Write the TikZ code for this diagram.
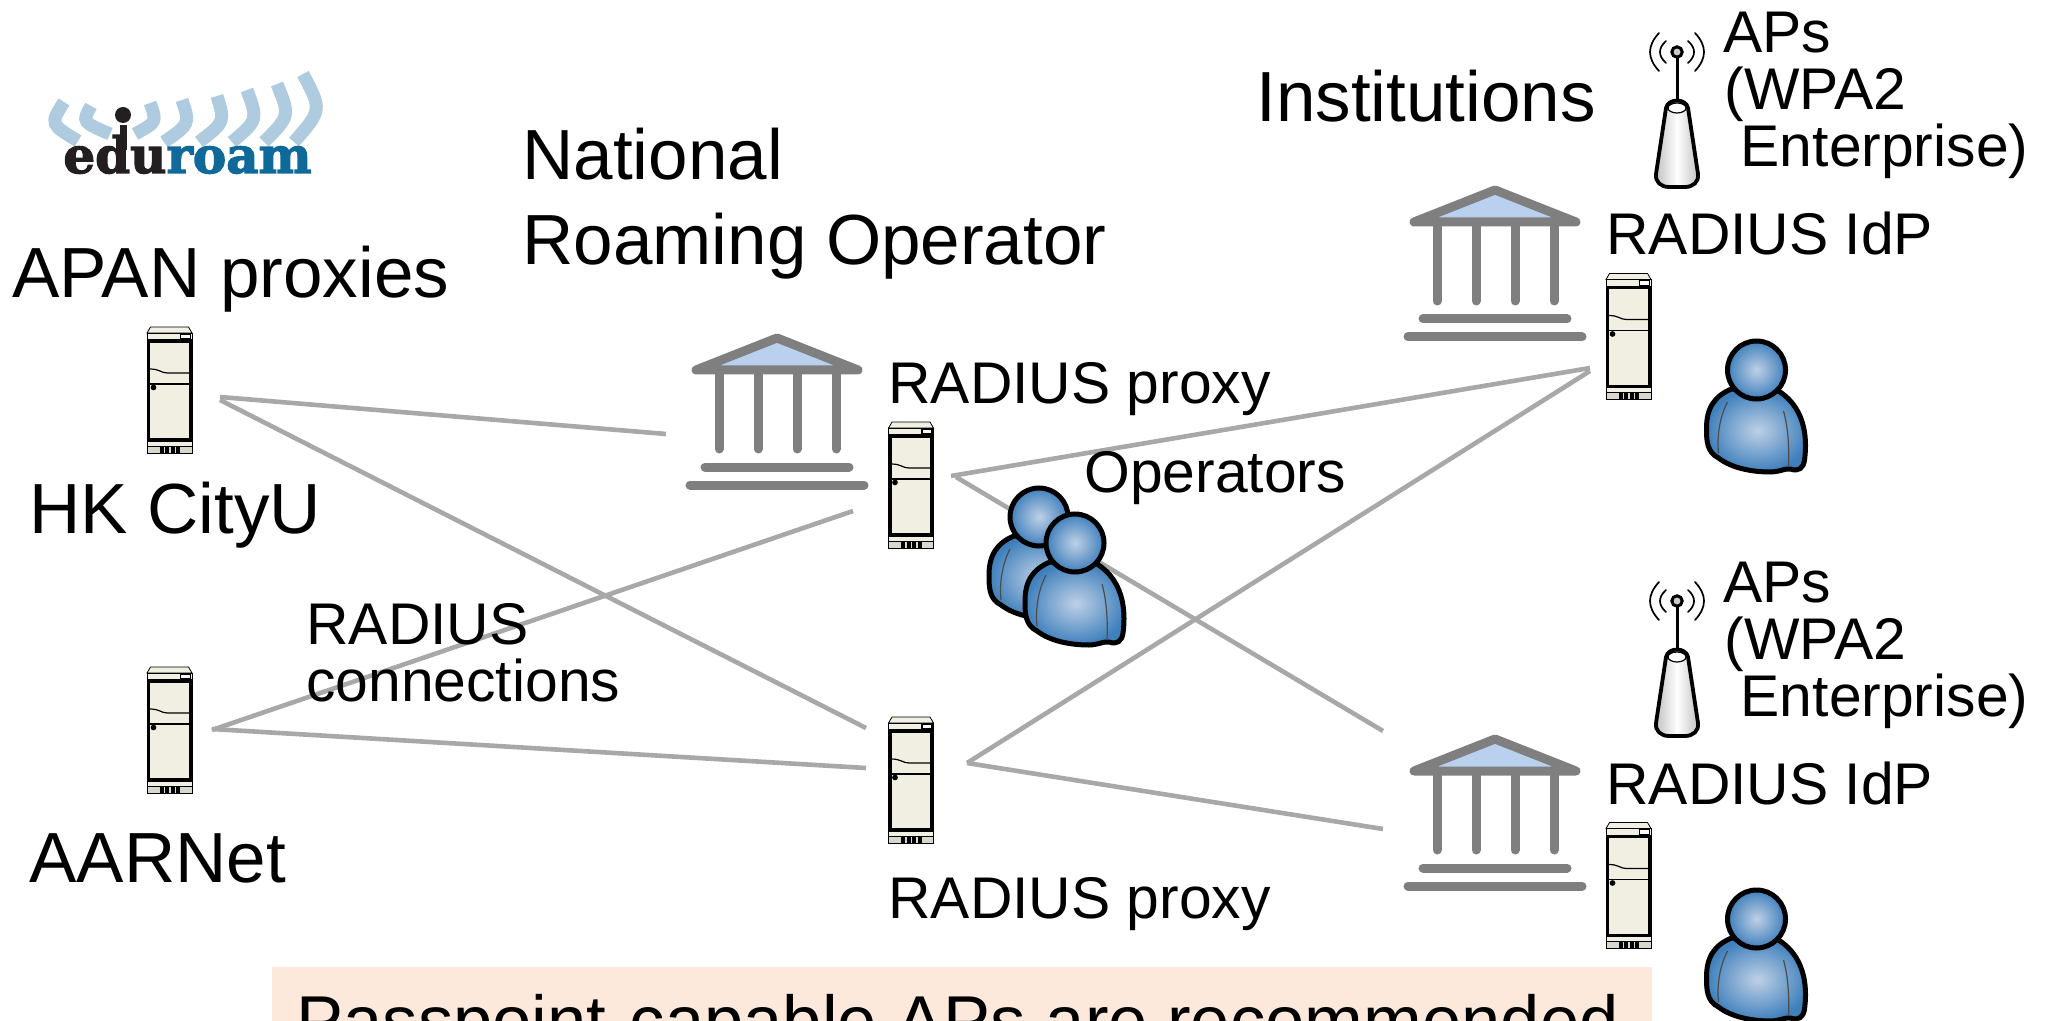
\documentclass[tikz,border=0pt]{standalone}
\usepackage{fontspec}
\setmainfont{Liberation Sans}
\newfontfamily\logofont[BoldFeatures={FakeBold=2.5}]{DejaVu Serif}
\definecolor{linkgray}{HTML}{A8A8A8}
\definecolor{bankgray}{HTML}{7F7F7F}
\definecolor{bankblue}{HTML}{B9D1EE}
\definecolor{boxcream}{HTML}{F1EEE2}
\definecolor{ventgray}{HTML}{D9D6CC}
\definecolor{notefill}{HTML}{FCE9DB}
\definecolor{arcblue}{HTML}{AECBDF}
\definecolor{logodark}{HTML}{231F20}
\definecolor{logoblue}{HTML}{0F6A9A}
\definecolor{skinmid}{HTML}{BFD0E6}
\definecolor{skinout}{HTML}{3F80BC}
\tikzset{
    link/.style={draw=linkgray, line width=2.3pt},
    bigtext/.style={anchor=base west, inner sep=0pt, font=\fontsize{35.5}{42.5}\selectfont, align=left},
    smalltext/.style={anchor=base west, inner sep=0pt, font=\fontsize{29.4}{28.5}\selectfont, align=left},
    radiobeam/.style={draw=black, line width=0.85pt, line cap=round},
    servericon/.pic={
        \draw[fill=boxcream, line width=0.4pt] (-22.5, -57) -- (-19, -63) -- (19, -63) -- (22.5, -57) -- cycle;
        \draw[fill=boxcream, line width=0.4pt] (-22.5, -57) rectangle (22.5, 56);
        \draw[fill=white!70!boxcream, line width=0.8pt] (11, -56) rectangle (21, -51);
        \draw[fill=boxcream, line width=1.8pt] (-21, -49) rectangle (21, 50);
        \draw[line width=0.6pt] (-20, -21) .. controls (-9, -21) and (-9, -17) .. (-2, -17) -- (20, -17);
        \draw[line width=0.9pt] (-20, -6) -- (20, -6);
        \filldraw (-16, -2.5) circle (1.2pt);
        \draw[fill=ventgray, line width=0.4pt] (-22.5, 56) rectangle (22.5, 63);
        \foreach \ventx in {-10, -4.5, 1, 6.5} {
            \fill (\ventx, 56.5) rectangle (\ventx + 4, 62.5);
        }
    },
    bankicon/.pic={
        \draw[bankgray, fill=bankblue, line width=4.5pt, line join=round, line cap=round] (-81, 41) -- (0, 9) -- (81, 41) -- cycle;
        \foreach \colx in {-58, -19, 20, 59} {
            \draw[bankgray, line width=4.5pt, line cap=round] (\colx, 42) -- (\colx, 120);
        }
        \draw[bankgray, line width=4.5pt, line cap=round] (-72, 138) -- (72, 138);
        \draw[bankgray, line width=4.5pt, line cap=round] (-87, 156) -- (87, 156);
    },
    usericon/.pic={
        \draw[line width=2.5pt, line join=round, inner color=skinmid, outer color=skinout] (-25, 19) .. controls (-42, 26) and (-50, 38) .. (-50, 58)
            .. controls (-50, 70) and (-50, 82) .. (-38, 88)
            .. controls (-25, 98) and (-5, 102) .. (14, 102)
            .. controls (22, 102) and (30, 98) .. (34, 99)
            .. controls (42, 102) and (47, 98) .. (48, 90)
            .. controls (50, 75) and (52, 40) .. (22, 21) -- cycle;
        \draw[draw=black!70, line width=0.6pt] (-29, 32) .. controls (-36, 45) and (-40, 65) .. (-38, 83);
        \draw[draw=black!70, line width=0.6pt] (27, 41) .. controls (31, 55) and (33, 75) .. (32, 96);
        \draw[line width=2.5pt, inner color=skinmid, outer color=skinout] (0, 0) circle (14.5pt);
    },
    apicon/.pic={
        % Antenna
        \draw[line width=1.5pt] (0, 6) -- (0, 50);
        \draw[fill=white!80!black, line width=1.5pt] (0, 0) circle (2.6pt);
        % Base
        \draw[line width=1.9pt, line join=round, left color=black!25, right color=black!25, middle color=white] (-11, 56) -- (-21, 122)
            .. controls (-22, 130) and (-16, 135) .. (-8, 135) -- (8, 135)
            .. controls (16, 135) and (22, 130) .. (21, 122) -- (11, 56)
            .. controls (9, 46) and (-9, 46) .. (-11, 56) -- cycle;
        \draw[fill=white, line width=0.6pt] (0, 56) ellipse (4.5pt and 2.5pt);
        % Beams
        \draw[radiobeam] (-11, -11) .. controls (-19, -4) and (-19, 4) .. (-11, 11);
        \draw[radiobeam] (11, -11) .. controls (19, -4) and (19, 4) .. (11, 11);
        \draw[radiobeam] (-18, -19) .. controls (-30, -6) and (-30, 6) .. (-18, 19);
        \draw[radiobeam] (18, -19) .. controls (30, -6) and (30, 6) .. (18, 19);
    }
}
\begin{document}
\begin{tikzpicture}[x=0.5pt, y=-0.5pt]
        \clip[use as bounding box] (0, 0) rectangle (2049, 1021);

        % Link ends
        \coordinate (cityuA) at (220, 397);
        \coordinate (cityuB) at (220, 400);
        \coordinate (aarnetA) at (212, 730);
        \coordinate (aarnetB) at (212, 729);
        \coordinate (nroIn) at (666, 434);
        \coordinate (nroLow) at (853, 511);
        \coordinate (upperA) at (951, 476);
        \coordinate (upperB) at (956, 477);
        \coordinate (lowerInA) at (866, 728);
        \coordinate (lowerInB) at (866, 768);
        \coordinate (lowerOut) at (967, 763);
        \coordinate (idpA) at (1590, 368);
        \coordinate (idpB) at (1590, 371);
        \coordinate (instTop) at (1383, 731);
        \coordinate (instLow) at (1383, 829);

        % Note
        \fill[notefill] (272, 967) rectangle (1652, 1021);
        \node[anchor=base west, inner sep=0pt, font=\fontsize{35.3}{42}\selectfont] (note) at (296, 1045) {Passpoint-capable APs are recommended};

        % Connections
        \draw[link] (cityuA) -- (nroIn);
        \draw[link] (cityuB) -- (lowerInA);
        \draw[link] (aarnetA) -- (nroLow);
        \draw[link] (aarnetB) -- (lowerInB);
        \draw[link] (upperA) -- (idpA);
        \draw[link] (upperB) -- (instTop);
        \draw[link] (lowerOut) -- (idpB);
        \draw[link] (lowerOut) -- (instLow);

        % Logo
        \foreach \bx/\by/\cx/\cy/\ex/\ey in {64/102/50/124/78/141, 91/106/82/122/110/134, 150/103/157/122/135/134, 182/100/190/124/164/142, 217/96/225/122/199/142, 247/90/258/120/232/142, 277/84/290/116/264/142, 303/74/322/110/294/142} {
            \draw[arcblue, line width=6.5pt] (\bx, \by) .. controls (\cx, \cy) .. (\ex, \ey);
        }
        \node[anchor=base west, inner sep=0pt, font=\fontsize{25}{25}\logofont\bfseries] (logotext) at (63, 173) {\textcolor{logodark}{edu}\textcolor{logoblue}{roam}};
        \draw[logodark, line width=3.5pt] (123, 125) -- (123, 150);
        \fill[logodark] (123, 115) circle (4pt);

        % Backbone
        \pic at (169.5, 390) {servericon};
        \pic at (169.5, 730) {servericon};
        \node[bigtext] (apan) at (12, 298) {APAN proxies};
        \node[bigtext] (cityu) at (29, 533) {HK CityU};
        \node[bigtext] (aarnet) at (29, 882) {AARNet};
        \node[smalltext] (links) at (306, 644) {RADIUS};
        \node[smalltext] (links2) at (306, 701) {connections};

        % National operator
        \pic at (777, 329) {bankicon};
        \pic at (911, 485) {servericon};
        \pic at (911, 780) {servericon};
        \pic at (1039, 517) {usericon};
        \pic at (1075, 543) {usericon};
        \node[bigtext] (national) at (522, 180) {National};
        \node[bigtext] (roaming) at (522, 265) {Roaming Operator};
        \node[smalltext] (proxyup) at (888, 403) {RADIUS proxy};
        \node[smalltext] (proxylow) at (888, 918) {RADIUS proxy};
        \node[smalltext] (operators) at (1084, 492) {Operators};

        % Institutions
        \node[bigtext] (institutions) at (1256, 122) {Institutions};
        \foreach \sy/\instname in {0/a, 549/b} {
            \pic at (1495, 181 + \sy) {bankicon};
            \pic at (1628.5, 336.5 + \sy) {servericon};
            \pic at (1756.5, 370 + \sy) {usericon};
            \pic at (1677, 52 + \sy) {apicon};
            \node[smalltext] (idp\instname) at (1606, 255 + \sy) {RADIUS IdP};
            \node[smalltext] (aps\instname) at (1723, 53 + \sy) {APs};
            \node[smalltext] (wpa\instname) at (1724, 110 + \sy) {(WPA2};
            \node[smalltext] (ent\instname) at (1724, 167 + \sy) {\ Enterprise)};
        }
    \end{tikzpicture}
\end{document}
